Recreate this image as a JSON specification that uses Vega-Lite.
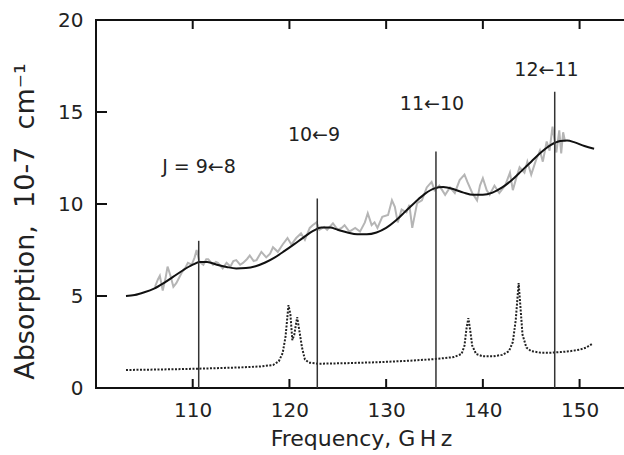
{
  "$schema": "https://vega.github.io/schema/vega-lite/v6.json",
  "width": 530,
  "height": 368,
  "autosize": "none",
  "padding": {"left": 96, "top": 20, "right": 0, "bottom": 67},
  "background": "white",
  "config": {
    "font": "DejaVu Sans",
    "view": {"stroke": "#111", "strokeWidth": 2},
    "axis": {"grid": false, "ticks": false, "tickSize": 0, "labelColor": "#222", "titleColor": "#222", "labelFont": "DejaVu Sans", "titleFont": "DejaVu Sans", "titleFontWeight": "normal", "domain": false}
  },
  "datasets": {
    "fit": [
      {"f": 103.1, "a": 5.0}, {"f": 104, "a": 5.05}, {"f": 105, "a": 5.2}, {"f": 106, "a": 5.4}, {"f": 107, "a": 5.7},
      {"f": 108, "a": 6.05}, {"f": 109, "a": 6.4}, {"f": 110, "a": 6.7}, {"f": 110.7, "a": 6.85}, {"f": 111.5, "a": 6.85},
      {"f": 112.5, "a": 6.7}, {"f": 113.5, "a": 6.58}, {"f": 114.5, "a": 6.5}, {"f": 115.5, "a": 6.52}, {"f": 116.5, "a": 6.62},
      {"f": 117.5, "a": 6.82}, {"f": 118.5, "a": 7.1}, {"f": 119.5, "a": 7.45}, {"f": 120.5, "a": 7.82}, {"f": 121.5, "a": 8.2},
      {"f": 122.5, "a": 8.55}, {"f": 123.3, "a": 8.72}, {"f": 124.2, "a": 8.72}, {"f": 125, "a": 8.6}, {"f": 126, "a": 8.45},
      {"f": 127, "a": 8.35}, {"f": 128, "a": 8.35}, {"f": 129, "a": 8.45}, {"f": 130, "a": 8.7}, {"f": 131, "a": 9.1},
      {"f": 132, "a": 9.6}, {"f": 133, "a": 10.1}, {"f": 134, "a": 10.55}, {"f": 135, "a": 10.85}, {"f": 135.9, "a": 10.92},
      {"f": 137, "a": 10.8}, {"f": 138, "a": 10.62}, {"f": 139, "a": 10.5}, {"f": 140, "a": 10.5}, {"f": 141, "a": 10.62},
      {"f": 142, "a": 10.9}, {"f": 143, "a": 11.3}, {"f": 144, "a": 11.8}, {"f": 145, "a": 12.3}, {"f": 146, "a": 12.8},
      {"f": 147, "a": 13.2}, {"f": 148, "a": 13.42}, {"f": 148.7, "a": 13.45}, {"f": 149.5, "a": 13.35}, {"f": 150.5, "a": 13.15},
      {"f": 151.5, "a": 13.0}
    ],
    "obs": [
      {"f": 106.1, "a": 5.5}, {"f": 106.4, "a": 5.9}, {"f": 106.6, "a": 6.1}, {"f": 106.9, "a": 5.3}, {"f": 107.2, "a": 6.0},
      {"f": 107.4, "a": 6.6}, {"f": 107.7, "a": 6.1}, {"f": 108.0, "a": 5.5}, {"f": 108.3, "a": 5.7}, {"f": 108.5, "a": 5.9},
      {"f": 108.9, "a": 6.3}, {"f": 109.2, "a": 6.5}, {"f": 109.5, "a": 6.8}, {"f": 109.9, "a": 6.7}, {"f": 110.2, "a": 7.1},
      {"f": 110.4, "a": 7.5}, {"f": 110.7, "a": 6.85}, {"f": 111.1, "a": 6.7}, {"f": 111.4, "a": 7.0}, {"f": 111.6, "a": 7.0},
      {"f": 112.1, "a": 6.7}, {"f": 112.4, "a": 6.85}, {"f": 112.6, "a": 6.8}, {"f": 113.1, "a": 6.5}, {"f": 113.5, "a": 6.8},
      {"f": 113.9, "a": 6.6}, {"f": 114.2, "a": 6.9}, {"f": 114.5, "a": 6.95}, {"f": 114.9, "a": 6.7}, {"f": 115.2, "a": 6.8},
      {"f": 115.6, "a": 7.0}, {"f": 115.9, "a": 7.2}, {"f": 116.3, "a": 6.9}, {"f": 116.6, "a": 6.95}, {"f": 117.1, "a": 7.4},
      {"f": 117.6, "a": 7.1}, {"f": 118.0, "a": 7.3}, {"f": 118.3, "a": 7.65}, {"f": 118.8, "a": 7.4}, {"f": 119.3, "a": 7.8},
      {"f": 119.8, "a": 8.15}, {"f": 120.2, "a": 7.8}, {"f": 120.7, "a": 8.15}, {"f": 121.2, "a": 8.4}, {"f": 121.6, "a": 8.05},
      {"f": 122.1, "a": 8.7}, {"f": 122.4, "a": 8.85}, {"f": 122.8, "a": 9.0}, {"f": 123.1, "a": 8.6}, {"f": 123.6, "a": 8.75},
      {"f": 123.9, "a": 8.6}, {"f": 124.5, "a": 8.95}, {"f": 125.0, "a": 8.6}, {"f": 125.4, "a": 8.7}, {"f": 125.7, "a": 8.85},
      {"f": 126.2, "a": 8.5}, {"f": 126.8, "a": 8.7}, {"f": 127.3, "a": 8.5}, {"f": 127.8, "a": 9.0}, {"f": 128.1, "a": 9.5},
      {"f": 128.5, "a": 8.85}, {"f": 128.8, "a": 9.0}, {"f": 129.1, "a": 8.7}, {"f": 129.6, "a": 9.3}, {"f": 130.2, "a": 9.4},
      {"f": 130.6, "a": 10.2}, {"f": 130.9, "a": 9.85}, {"f": 131.2, "a": 9.0}, {"f": 131.6, "a": 9.7}, {"f": 132.1, "a": 9.55},
      {"f": 132.4, "a": 9.95}, {"f": 132.7, "a": 8.7}, {"f": 133.2, "a": 10.05}, {"f": 133.7, "a": 10.2}, {"f": 134.2, "a": 10.9},
      {"f": 134.7, "a": 11.2}, {"f": 135.0, "a": 10.75}, {"f": 135.5, "a": 11.0}, {"f": 136.1, "a": 10.5}, {"f": 136.6, "a": 10.9},
      {"f": 137.1, "a": 10.6}, {"f": 137.6, "a": 11.3}, {"f": 138.1, "a": 11.6}, {"f": 138.4, "a": 11.2}, {"f": 138.9, "a": 10.6},
      {"f": 139.4, "a": 10.2}, {"f": 139.7, "a": 11.0}, {"f": 140.0, "a": 11.4}, {"f": 140.4, "a": 10.75}, {"f": 140.7, "a": 10.5},
      {"f": 141.2, "a": 11.0}, {"f": 141.7, "a": 10.6}, {"f": 142.3, "a": 11.0}, {"f": 142.8, "a": 11.7}, {"f": 143.1, "a": 10.75},
      {"f": 143.5, "a": 11.5}, {"f": 143.8, "a": 12.0}, {"f": 144.3, "a": 11.7}, {"f": 144.6, "a": 12.3}, {"f": 145.0, "a": 11.6},
      {"f": 145.5, "a": 12.4}, {"f": 145.9, "a": 12.9}, {"f": 146.2, "a": 12.3}, {"f": 146.6, "a": 13.4}, {"f": 146.9, "a": 12.9},
      {"f": 147.2, "a": 14.2}, {"f": 147.6, "a": 12.8}, {"f": 147.9, "a": 14.0}, {"f": 148.1, "a": 12.75}, {"f": 148.3, "a": 13.9},
      {"f": 148.5, "a": 13.4}
    ],
    "sim": [
      {"f": 103.1, "a": 0.98}, {"f": 106, "a": 1.0}, {"f": 109, "a": 1.03}, {"f": 112, "a": 1.07}, {"f": 115, "a": 1.12},
      {"f": 117, "a": 1.17}, {"f": 118.3, "a": 1.25}, {"f": 118.9, "a": 1.45}, {"f": 119.3, "a": 1.9}, {"f": 119.6, "a": 2.8},
      {"f": 119.9, "a": 4.5}, {"f": 120.1, "a": 4.0}, {"f": 120.3, "a": 2.6}, {"f": 120.5, "a": 2.9}, {"f": 120.8, "a": 3.85},
      {"f": 121.0, "a": 3.2}, {"f": 121.3, "a": 2.2}, {"f": 121.6, "a": 1.55}, {"f": 122.0, "a": 1.38}, {"f": 123, "a": 1.32},
      {"f": 126, "a": 1.35}, {"f": 129, "a": 1.4}, {"f": 132, "a": 1.47}, {"f": 135, "a": 1.57}, {"f": 137, "a": 1.68},
      {"f": 137.8, "a": 1.85}, {"f": 138.1, "a": 2.3}, {"f": 138.3, "a": 3.2}, {"f": 138.5, "a": 3.8}, {"f": 138.7, "a": 3.1},
      {"f": 138.9, "a": 2.3}, {"f": 139.3, "a": 1.85}, {"f": 140, "a": 1.72}, {"f": 141, "a": 1.72}, {"f": 142, "a": 1.8},
      {"f": 142.7, "a": 2.0}, {"f": 143.1, "a": 2.5}, {"f": 143.4, "a": 3.7}, {"f": 143.7, "a": 5.7}, {"f": 143.9, "a": 4.3},
      {"f": 144.1, "a": 2.9}, {"f": 144.5, "a": 2.2}, {"f": 145, "a": 2.0}, {"f": 146, "a": 1.92}, {"f": 147, "a": 1.92},
      {"f": 148, "a": 1.95}, {"f": 149, "a": 2.0}, {"f": 150, "a": 2.08}, {"f": 150.7, "a": 2.2}, {"f": 151.3, "a": 2.4}
    ],
    "lines": [
      {"f": 110.62, "low": 0, "top": 8.0}, {"f": 122.88, "low": 0, "top": 10.3}, {"f": 135.15, "low": 0, "top": 12.85}, {"f": 147.43, "low": 0, "top": 16.1}
    ],
    "labels": [
      {"f": 110.65, "a": 12.0, "t": "J = 9←8"},
      {"f": 122.54, "a": 13.75, "t": "10←9"},
      {"f": 134.74, "a": 15.43, "t": "11←10"},
      {"f": 146.58, "a": 17.28, "t": "12←11"}
    ],
    "xticks": [
      {"f": 110, "lo": 0, "hi": 20}, {"f": 120, "lo": 0, "hi": 20}, {"f": 130, "lo": 0, "hi": 20},
      {"f": 140, "lo": 0, "hi": 20}, {"f": 150, "lo": 0, "hi": 20}
    ],
    "yticks": [
      {"f": 100, "a": 5}, {"f": 100, "a": 10}, {"f": 100, "a": 15}
    ]
  },
  "layer": [
    {
      "data": {"name": "sim"},
      "mark": {"type": "line", "color": "#222", "strokeWidth": 2, "strokeDash": [2, 1.5]},
      "encoding": {
        "x": {"field": "f", "type": "quantitative", "scale": {"domain": [100, 154.8], "nice": false, "zero": false},
          "axis": {"orient": "bottom", "values": [110, 120, 130, 140, 150], "labelPadding": 12, "labelFontSize": 20, "title": "Frequency, G\u2009H\u2009z", "titleFontSize": 22, "titlePadding": 8}},
        "y": {"field": "a", "type": "quantitative", "scale": {"domain": [0, 20], "nice": false},
          "axis": {"values": [0, 5, 10, 15, 20], "labelPadding": 13, "labelFontSize": 20, "title": "Absorption,\u00a0 10-7\u00a0 cm⁻¹", "titleFontSize": 27, "titleX": -63, "titleY": 201, "titleBaseline": "alphabetic", "titleAngle": -90}}
      }
    },
    {
      "data": {"name": "obs"},
      "mark": {"type": "line", "color": "#b5b5b5", "strokeWidth": 2},
      "encoding": {
        "x": {"field": "f", "type": "quantitative"},
        "y": {"field": "a", "type": "quantitative"}
      }
    },
    {
      "data": {"name": "fit"},
      "mark": {"type": "line", "color": "#111", "strokeWidth": 2, "interpolate": "monotone"},
      "encoding": {
        "x": {"field": "f", "type": "quantitative"},
        "y": {"field": "a", "type": "quantitative"}
      }
    },
    {
      "data": {"name": "lines"},
      "mark": {"type": "rule", "color": "#333", "strokeWidth": 1.5},
      "encoding": {
        "x": {"field": "f", "type": "quantitative"},
        "y": {"field": "low", "type": "quantitative"},
        "y2": {"field": "top"}
      }
    },
    {
      "data": {"name": "xticks"},
      "mark": {"type": "rule", "color": "#111", "strokeWidth": 2, "y2Offset": -9},
      "encoding": {
        "x": {"field": "f", "type": "quantitative"},
        "y": {"field": "lo", "type": "quantitative"},
        "y2": {"field": "lo"}
      }
    },
    {
      "data": {"name": "xticks"},
      "mark": {"type": "rule", "color": "#111", "strokeWidth": 2, "y2Offset": 9},
      "encoding": {
        "x": {"field": "f", "type": "quantitative"},
        "y": {"field": "hi", "type": "quantitative"},
        "y2": {"field": "hi"}
      }
    },
    {
      "data": {"name": "yticks"},
      "mark": {"type": "rule", "color": "#111", "strokeWidth": 2, "x2Offset": 11},
      "encoding": {
        "x": {"field": "f", "type": "quantitative"},
        "x2": {"field": "f"},
        "y": {"field": "a", "type": "quantitative"}
      }
    },
    {
      "data": {"name": "labels"},
      "mark": {"type": "text", "font": "DejaVu Sans", "fontSize": 19, "color": "#222", "align": "center", "baseline": "middle"},
      "encoding": {
        "x": {"field": "f", "type": "quantitative"},
        "y": {"field": "a", "type": "quantitative"},
        "text": {"field": "t"}
      }
    }
  ]
}
